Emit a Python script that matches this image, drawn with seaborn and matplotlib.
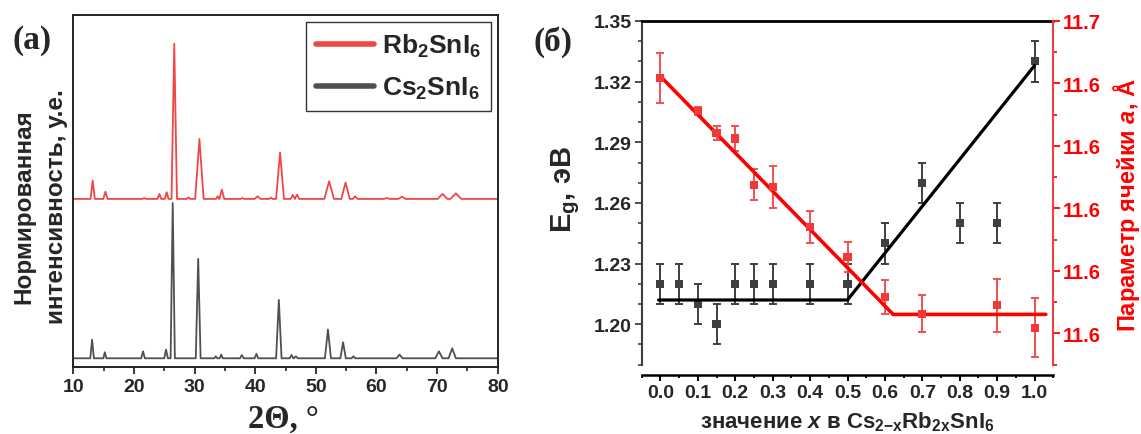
import numpy as np
import matplotlib
matplotlib.use("Agg")
import matplotlib.pyplot as plt
import seaborn as sns
from matplotlib.ticker import MultipleLocator, FormatStrFormatter

# ---------------- data: panel (a) XRD patterns ----------------
# peak position (2theta, deg), normalised intensity, half base width (deg)
rb_pos = [13.2, 15.3, 21.7, 24.2, 25.4, 26.65, 29.0, 30.8, 33.8, 34.5, 37.9, 40.4,
          42.6, 44.1, 46.2, 46.9, 52.2, 54.9, 56.5, 61.7, 64.2, 70.9, 73.1]
rb_int = [0.118, 0.047, 0.006, 0.032, 0.043, 1.0, 0.010, 0.386, 0.017, 0.060, 0.006, 0.017,
          0.008, 0.298, 0.026, 0.028, 0.114, 0.105, 0.017, 0.006, 0.015, 0.032, 0.036]
rb_hw = [0.35, 0.35, 0.3, 0.3, 0.3, 0.45, 0.3, 0.7, 0.25, 0.4, 0.3, 0.5,
         0.3, 0.65, 0.35, 0.35, 0.8, 0.7, 0.4, 0.5, 0.6, 0.8, 0.9]

cs_pos = [13.1, 15.2, 21.5, 25.3, 26.4, 30.6, 33.5, 34.4, 37.8, 40.2, 43.9, 46.0,
          46.7, 52.0, 54.5, 56.2, 63.8, 70.3, 72.5]
cs_int = [0.12, 0.039, 0.045, 0.056, 1.0, 0.64, 0.013, 0.024, 0.021, 0.028, 0.376, 0.021,
          0.013, 0.185, 0.103, 0.013, 0.024, 0.045, 0.064]
cs_hw = [0.3, 0.25, 0.3, 0.3, 0.35, 0.4, 0.25, 0.25, 0.3, 0.3, 0.45, 0.3,
         0.3, 0.5, 0.45, 0.3, 0.5, 0.6, 0.6]

two_theta_range = [10, 80]
two_theta_ticks = [10, 20, 30, 40, 50, 60, 70, 80]
rb_offset = 1.026
labels_a = ["Rb$_2$SnI$_6$", "Cs$_2$SnI$_6$"]

# ---------------- data: panel (b) ----------------
eg_x = [0.0, 0.05, 0.1, 0.15, 0.2, 0.25, 0.3, 0.4, 0.5, 0.6, 0.7, 0.8, 0.9, 1.0]
eg_val = [1.22, 1.22, 1.21, 1.20, 1.22, 1.22, 1.22, 1.22, 1.22, 1.24, 1.27, 1.25, 1.25, 1.33]
eg_err = [0.01, 0.01, 0.01, 0.01, 0.01, 0.01, 0.01, 0.01, 0.01, 0.01, 0.01, 0.01, 0.01, 0.01]
eg_fit_x = [-0.005, 0.5, 1.0]
eg_fit_y = [1.212, 1.212, 1.328]

a_x = [0.0, 0.1, 0.15, 0.2, 0.25, 0.3, 0.4, 0.5, 0.6, 0.7, 0.9, 1.0]
a_val = [11.6417, 11.6311, 11.6241, 11.6224, 11.6076, 11.6068, 11.5940, 11.5844,
         11.5716, 11.5663, 11.5690, 11.5618]
a_err = [0.0080, 0.0013, 0.0023, 0.0040, 0.0049, 0.0067, 0.0052, 0.0048,
         0.0055, 0.0059, 0.0085, 0.0094]
a_fit_x = [0.0, 0.622, 1.03]
a_fit_y = [11.6423, 11.5661, 11.5661]

x_ticks = [0.0, 0.1, 0.2, 0.3, 0.4, 0.5, 0.6, 0.7, 0.8, 0.9, 1.0]
eg_ticks = [1.20, 1.23, 1.26, 1.29, 1.32, 1.35]
a_ticks = [11.56, 11.58, 11.60, 11.62, 11.64, 11.66]

# ---------------- style ----------------
sns.set_style("ticks")
plt.rcParams.update({
    "font.family": ["Liberation Sans", "DejaVu Sans"],
    "font.weight": "bold",
    "mathtext.fontset": "custom",
    "mathtext.rm": "Liberation Sans:bold",
    "mathtext.it": "Liberation Sans:italic:bold",
    "mathtext.bf": "Liberation Sans:bold",
    "axes.linewidth": 1.2,
})

W, H = 1141, 435
fig = plt.figure(figsize=(W / 100, H / 100), dpi=100)


def px_axes(l, t, r, b):
    return fig.add_axes([l / W, 1 - b / H, (r - l) / W, (b - t) / H])


def trace(pos, inten, hw):
    xs, ys = [two_theta_range[0]], [0.0]
    for p, h, w in zip(pos, inten, hw):
        xs += [p - w, p, p + w]
        ys += [0.0, h, 0.0]
    xs.append(two_theta_range[1])
    ys.append(0.0)
    return np.array(xs), np.array(ys)

# ---------------- panel (a) ----------------
axA = px_axes(73.3, 15.7, 497.7, 368.3)
xr, yr = trace(rb_pos, rb_int, rb_hw)
xc, yc = trace(cs_pos, cs_int, cs_hw)
red_a = "#f24545"
grey_a = "#505050"
sns.lineplot(x=xr, y=yr + rb_offset, ax=axA, color=red_a, lw=1.3, sort=False,
             estimator=None, label=labels_a[0])
sns.lineplot(x=xc, y=yc, ax=axA, color=grey_a, lw=1.3, sort=False,
             estimator=None, label=labels_a[1])
axA.set_xlim(*two_theta_range)
axA.set_ylim(-0.058, 2.212)
axA.set_yticks([])
axA.set_xticks(two_theta_ticks)
axA.xaxis.set_minor_locator(MultipleLocator(5))
axA.tick_params(axis="x", which="major", direction="out", length=5, width=1.3,
                labelsize=14, pad=3)
axA.tick_params(axis="x", which="minor", direction="out", length=3, width=1.2)
for s in axA.spines.values():
    s.set_color("#222222")
    s.set_linewidth(1.4)
axA.set_xlabel("")
axA.set_ylabel("")
leg = axA.legend(loc="upper right", bbox_to_anchor=(0.984, 0.98), fontsize=19,
                 handlelength=2.2, handletextpad=0.3, borderpad=0.38,
                 labelspacing=0.6, fancybox=False, framealpha=1,
                 edgecolor="#333333", borderaxespad=0)
leg.get_frame().set_linewidth(1.0)
for ln in leg.get_lines():
    ln.set_linewidth(4)

# ---------------- panel (b) ----------------
axB = px_axes(641.7, 22, 1053.3, 365.7)
grey_b = "#3f3f3f"
axB.errorbar(eg_x, eg_val, yerr=eg_err, fmt="none", ecolor=grey_b, elinewidth=1.4,
             capsize=3.2, capthick=1.4)
sns.scatterplot(x=eg_x, y=eg_val, ax=axB, marker="s", s=34, color=grey_b,
                edgecolor="none", zorder=3)
sns.lineplot(x=eg_fit_x, y=eg_fit_y, ax=axB, color="black", lw=2.3, sort=False,
             estimator=None, zorder=4)
axB.set_xlim(-0.05, 1.05)
axB.set_ylim(1.18, 1.35)
axB.set_xticks(x_ticks)
axB.xaxis.set_major_formatter(FormatStrFormatter("%.1f"))
axB.xaxis.set_minor_locator(MultipleLocator(0.05))
axB.set_yticks(eg_ticks)
axB.yaxis.set_major_formatter(FormatStrFormatter("%.2f"))
axB.yaxis.set_minor_locator(MultipleLocator(0.01))
axB.tick_params(axis="y", which="major", direction="out", length=5, width=1.3,
                labelsize=14, color=grey_b, pad=2)
axB.tick_params(axis="y", which="minor", direction="out", length=3, width=1.2,
                color=grey_b)
axB.tick_params(axis="x", which="major", direction="out", length=4, width=1.5,
                labelsize=14, color="black", pad=3)
axB.tick_params(axis="x", which="minor", direction="out", length=2.5, width=1.3,
                color="black")
axB.spines["right"].set_visible(False)
axB.spines["left"].set_color(grey_b)
axB.spines["left"].set_linewidth(1.5)
axB.spines["bottom"].set_color("black")
axB.spines["bottom"].set_linewidth(1.8)
axB.spines["bottom"].set_position(("outward", 7.2))
axB.spines["top"].set_color("black")
axB.spines["top"].set_linewidth(2.0)
axB.set_xlabel("")
axB.set_ylabel("")

ax2 = axB.twinx()
red_pt = "#f03a3a"
ax2.errorbar(a_x, a_val, yerr=a_err, fmt="none", ecolor="#f25050", elinewidth=1.4,
             capsize=3.2, capthick=1.4)
sns.scatterplot(x=a_x, y=a_val, ax=ax2, marker="s", s=34, color=red_pt,
                edgecolor="none", zorder=3)
sns.lineplot(x=a_fit_x, y=a_fit_y, ax=ax2, color="#ff0000", lw=2.6, sort=False,
             estimator=None, zorder=2)
ax2.set_ylim(11.55, 11.66)
ax2.set_yticks(a_ticks)
ax2.yaxis.set_major_formatter(FormatStrFormatter("%.1f"))
ax2.yaxis.set_minor_locator(MultipleLocator(0.01))
ax2.tick_params(axis="y", which="major", direction="out", length=5, width=1.3,
                labelsize=14.5, colors="#ff0000", pad=2)
ax2.tick_params(axis="y", which="minor", direction="out", length=3, width=1.2,
                color="#ff0000")
for k in ["left", "top", "bottom"]:
    ax2.spines[k].set_visible(False)
ax2.spines["right"].set_color("#f04040")
ax2.spines["right"].set_linewidth(1.5)
ax2.set_ylabel("")

# ---------------- text labels ----------------
def ftext(px, py, s, **kw):
    fig.text(px / W, 1 - py / H, s, **kw)

ftext(32, 40, "(a)", family="Liberation Serif", fontsize=24, weight="bold",
      ha="center", va="center")
ftext(553, 42, "(б)", family="Liberation Serif", fontsize=24, weight="bold",
      ha="center", va="center")
ftext(40, 207, "Нормированная\nинтенсивность, у.е.", fontsize=17.5, weight="bold",
      rotation=90, ha="center", va="center", multialignment="center",
      linespacing=1.5)
ftext(283, 428, "2Θ, °", family="Liberation Serif", fontsize=23.5, weight="bold",
      ha="center", va="baseline")
ftext(566, 190, "E$_\\mathrm{g}$, эВ", fontsize=21, weight="bold", rotation=90,
      ha="center", va="center")
ftext(847, 428, "значение $x$ в Cs$_{2\\mathrm{-x}}$Rb$_{2\\mathrm{x}}$SnI$_6$",
      fontsize=16, weight="bold", ha="center", va="baseline")
ftext(1127, 205, "Параметр ячейки $a$, Å", fontsize=17, weight="bold",
      rotation=90, ha="center", va="center", color="#ff0000")

fig.savefig("out.png", dpi=100)
